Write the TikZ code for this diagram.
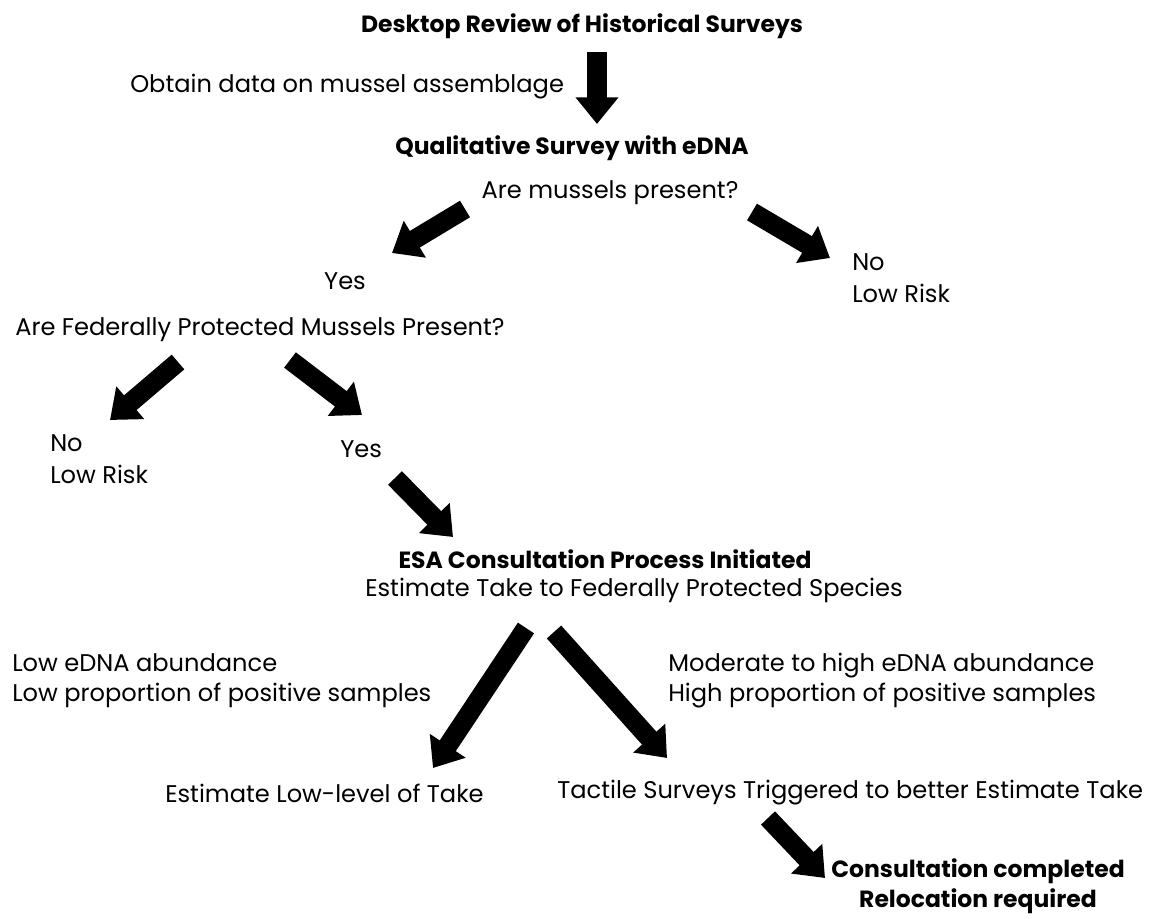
\documentclass[tikz,border=0pt]{standalone}
\usepackage{fontspec}
\setmainfont{Poppins}
\usetikzlibrary{arrows.meta}
\tikzset{
  txt/.style={inner sep=0pt, yshift=-2.2pt, font=\fontsize{18.1}{22.5}\selectfont},
  btxt/.style={inner sep=0pt, yshift=-2.2pt, font=\fontsize{17.6}{22.5}\selectfont\bfseries},
  nolow/.style={inner sep=0pt, yshift=-2.2pt, font=\fontsize{18.1}{24.3}\selectfont},
  blk/.style={line width=14.5pt, -{Triangle[width=31pt,length=20pt]}}
}
\begin{document}
\begin{tikzpicture}[x=0.75pt,y=-0.75pt]
\useasboundingbox (0,0) rectangle (1156,918);
\node[btxt] (desk) at (582,23) {Desktop Review of Historical Surveys};
\node[txt,anchor=west] (obtain) at (130,84) {Obtain data on mussel assemblage};
\node[btxt] (qual) at (572,145) {Qualitative Survey with eDNA};
\node[txt] (present) at (610,190) {Are mussels present?};
\node[txt] (yes1) at (345,278) {Yes};
\node[nolow,anchor=west,align=left] (no1) at (852,275) {No\\Low Risk};
\node[txt,anchor=west] (fed) at (15,327) {Are Federally Protected Mussels Present?};
\node[nolow,anchor=west,align=left] (no2) at (50,456) {No\\Low Risk};
\node[txt,anchor=west] (yes2) at (340,446) {Yes};
\node[btxt] (esa) at (605,556) {ESA Consultation Process Initiated};
\node[txt] (estake) at (634,588) {Estimate Take to Federally Protected Species};
\node[txt,anchor=west,align=left] (low) at (12,678) {Low eDNA abundance\\Low proportion of positive samples};
\node[txt,anchor=west,align=left] (high) at (668,678) {Moderate to high eDNA abundance\\High proportion of positive samples};
\node[txt,anchor=west] (lowtake) at (165,790) {Estimate Low-level of Take};
\node[txt,anchor=west] (tactile) at (557,790) {Tactile Surveys Triggered to better Estimate Take};
\node[btxt,align=center] (consult) at (978,883) {Consultation completed\\Relocation required};
% arrow end points
\coordinate (a1s) at (597,52); \coordinate (a1e) at (597,124);
\coordinate (a2s) at (465,209); \coordinate (a2e) at (392,253);
\coordinate (a3s) at (752,212); \coordinate (a3e) at (830,258);
\coordinate (a4s) at (178,362); \coordinate (a4e) at (110,420);
\coordinate (a5s) at (290,360); \coordinate (a5e) at (362,415);
\coordinate (a6s) at (395,478); \coordinate (a6e) at (453,537);
\coordinate (a7s) at (526,628); \coordinate (a7e) at (433,768);
\coordinate (a8s) at (554,632); \coordinate (a8e) at (667,758);
\coordinate (a9s) at (768,818); \coordinate (a9e) at (825,878);
\foreach \i in {1,...,9} {\draw[blk] (a\i s) -- (a\i e);}
\end{tikzpicture}
\end{document}
